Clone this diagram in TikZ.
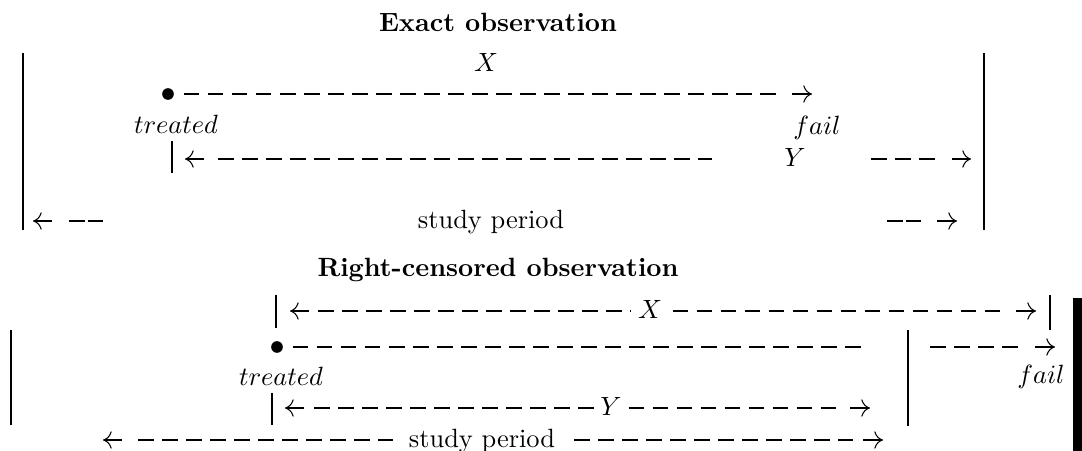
\documentclass[tikz,border=0pt]{standalone}
\usepackage{amsmath,amssymb}
\usepackage{tikz}
\usetikzlibrary{arrows.meta,calc}

\begin{document}
\begin{tikzpicture}[
  x=0.3788pt, y=-0.3788pt,
  lbl/.style={inner sep=0pt, anchor=base},
  dot/.style={circle, fill, inner sep=0pt, minimum size=4.4pt},
  bar/.style={line width=0.4pt},
  dsh/.style={line width=0.4pt, dash pattern=on 5.9pt off 3.2pt},
  dd/.style={line width=0.4pt, dash pattern=on 5.9pt off 1.2pt},
  arr/.style={line width=0.4pt, -{Computer Modern Rightarrow[length=3.3pt,width=6.6pt]}}
]
  \useasboundingbox (0,0) rectangle (1082,451);

  % exact observation
  \node[lbl, font=\bfseries] (t1) at (498,31) {Exact observation};
  \draw[bar] (23,53) coordinate (l1a) -- (23,230) coordinate (l1b);
  \draw[bar] (984,53) coordinate (r1a) -- (984,230) coordinate (r1b);
  \node[lbl] (x1) at (486,71) {$X$};
  \node[dot] (d1) at (168,94) {};
  \node[lbl] (tr1) at (176,133) {$treated$};
  \node[lbl] (f1) at (817,134) {$fail$};
  \coordinate (e1) at (812,94);
  \draw[dsh] ([xshift=3.6pt]d1.east) -- ($(e1)+(-28,0)$);
  \draw[arr] ($(e1)+(-20,0)$) -- (e1);
  % second line: Y
  \draw[bar] (172,141) coordinate (b1a) -- (172,173) coordinate (b1b);
  \coordinate (s2) at (185,159);
  \coordinate (e2) at (971,159);
  \node[lbl] (y1) at (795,166) {$Y$};
  \draw[arr] ($(s2)+(19,0)$) -- (s2);
  \draw[dsh] ($(s2)+(33,0)$) -- (712,159) coordinate (y1l);
  \draw[dsh] (871,159) coordinate (y1r) -- ($(e2)+(-31,0)$);
  \draw[arr] ($(e2)+(-19,0)$) -- (e2);
  % study period
  \coordinate (s3) at (33,221);
  \coordinate (e3) at (957,221);
  \node[lbl] (sp1) at (491,228) {study period};
  \draw[arr] ($(s3)+(19,0)$) -- (s3);
  \draw[dd] ($(s3)+(36,0)$) -- ($(s3)+(71,0)$);
  \draw[dd] ($(e3)+(-70,0)$) -- ($(e3)+(-34,0)$);
  \draw[arr] ($(e3)+(-20,0)$) -- (e3);

  % right-censored observation
  \node[lbl, font=\bfseries] (t2) at (498,276) {Right-censored observation};
  % X line
  \draw[bar] (276,295) coordinate (b2a) -- (276,328) coordinate (b2b);
  \draw[bar] (1050,295) coordinate (b3a) -- (1050,330) coordinate (b3b);
  \coordinate (s4) at (290,311);
  \coordinate (e4) at (1036,311);
  \node[lbl] (x2) at (650,318) {$X$};
  \draw[arr] ($(s4)+(19,0)$) -- (s4);
  \draw[dsh, shorten >=2.3pt] ($(s4)+(28,0)$) -- (x2.west |- s4);
  \draw[dsh, shorten <=3.8pt] (x2.east |- e4) -- ($(e4)+(-28,0)$);
  \draw[arr] ($(e4)+(-20,0)$) -- (e4);
  % treated line
  \draw[bar] (11,330) coordinate (l2a) -- (11,425) coordinate (l2b);
  \draw[bar] (908,330) coordinate (m2a) -- (908,426) coordinate (m2b);
  \node[dot] (d2) at (277,347) {};
  \coordinate (e5) at (1055,347);
  \draw[dsh] ([xshift=3.6pt]d2.east) -- (865,347) coordinate (c5);
  \draw[dsh] (930,347) coordinate (c6) -- ($(e5)+(-29,0)$);
  \draw[arr] ($(e5)+(-20,0)$) -- (e5);
  \node[lbl] (tr2) at (281,385) {$treated$};
  \node[lbl] (f2) at (1041,383) {$fail$};
  % Y line
  \draw[bar] (272,393) coordinate (b4a) -- (272,425) coordinate (b4b);
  \coordinate (s6) at (285,408);
  \coordinate (e6) at (870,408);
  \node[lbl] (y2) at (611,415) {$Y$};
  \draw[arr] ($(s6)+(19,0)$) -- (s6);
  \draw[dsh, shorten >=1.5pt] ($(s6)+(29,0)$) -- (y2.west |- s6);
  \draw[dsh, shorten <=2.5pt] (y2.east |- e6) -- ($(e6)+(-30,0)$);
  \draw[arr] ($(e6)+(-20,0)$) -- (e6);
  % study period
  \coordinate (s7) at (103,440);
  \coordinate (e7) at (883,440);
  \node[lbl] (sp2) at (482,447) {study period};
  \draw[arr] ($(s7)+(19,0)$) -- (s7);
  \draw[dsh] ($(s7)+(35,0)$) -- (393,440) coordinate (c7);
  \draw[dsh] (574,440) coordinate (c8) -- ($(e7)+(-30,0)$);
  \draw[arr] ($(e7)+(-20,0)$) -- (e7);

  \fill (1073,298) rectangle (1082,451);
\end{tikzpicture}
\end{document}
